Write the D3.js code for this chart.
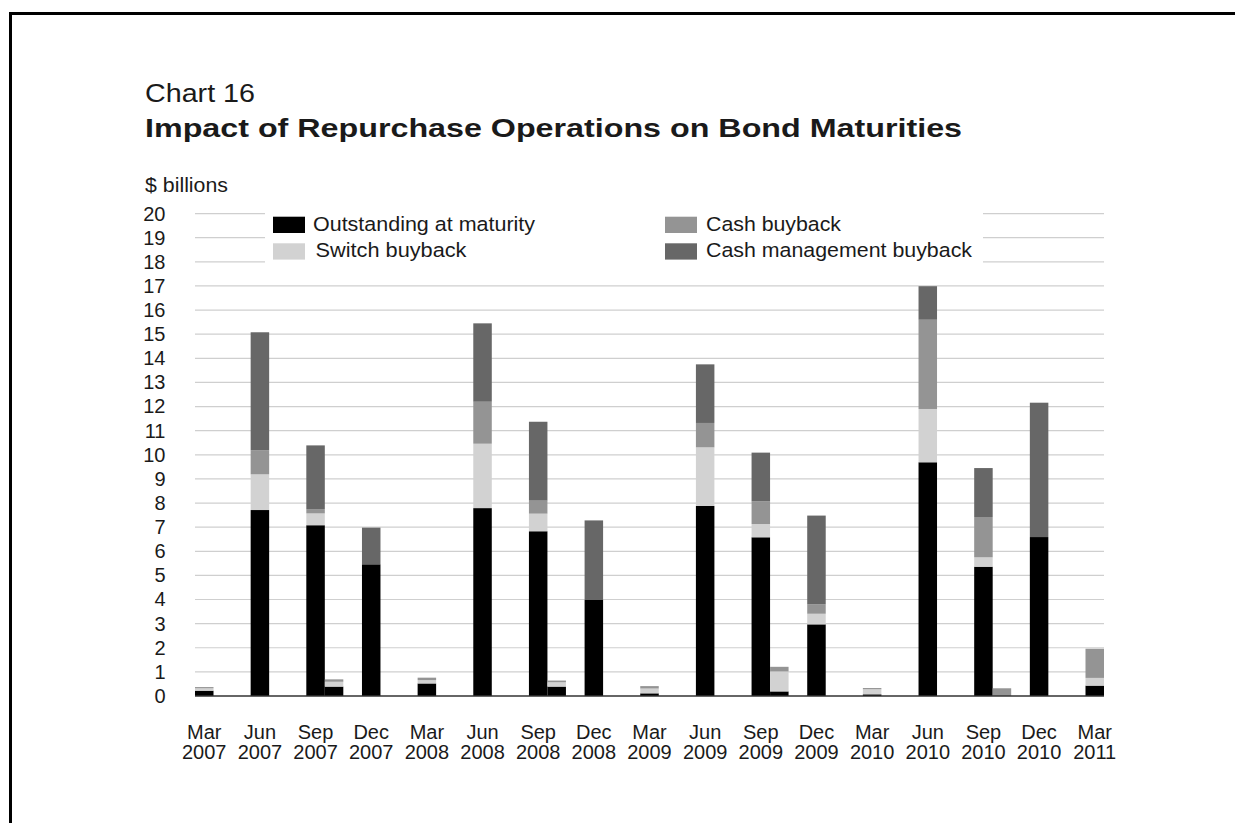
<!DOCTYPE html>
<html>
<head>
<meta charset="utf-8">
<script src="https://cdn.jsdelivr.net/npm/d3@7"></script>
<style>
  html, body { margin: 0; padding: 0; background: #fff; }
  svg { display: block; }
  text { font-family: "Liberation Sans", Arial, Helvetica, sans-serif; fill: #1a1a1a; }
</style>
</head>
<body>
<svg id="chart" width="1235" height="823"></svg>
<script>
// ---- Data ----
const categories = ["Mar 2007","Jun 2007","Sep 2007","Dec 2007","Mar 2008","Jun 2008","Sep 2008","Dec 2008",
  "Mar 2009","Jun 2009","Sep 2009","Dec 2009","Mar 2010","Jun 2010","Sep 2010","Dec 2010","Mar 2011"];

const seriesNames = ["Outstanding at maturity","Switch buyback","Cash buyback","Cash management buyback"];
const seriesColors = ["#000000","#d2d2d2","#949494","#676767"];

// Main bar per maturity date
const outstanding   = [0.22, 7.71, 7.08, 5.46, 0.52, 7.79, 6.83, 3.98, 0.11, 7.88, 6.58, 2.97, 0.07, 9.69, 5.36, 6.59, 0.43];
const switchBuyback = [0.10, 1.48, 0.49, 0.00, 0.14, 2.67, 0.73, 0.00, 0.20, 2.43, 0.55, 0.44, 0.21, 2.21, 0.39, 0.00, 0.32];
const cashBuyback   = [0.05, 1.00, 0.18, 0.00, 0.10, 1.74, 0.54, 0.00, 0.10, 1.01, 0.94, 0.39, 0.05, 3.70, 1.67, 0.00, 1.21];
const cashMgmt      = [0.00, 4.89, 2.64, 1.52, 0.00, 3.25, 3.27, 3.30, 0.00, 2.43, 2.02, 3.68, 0.00, 1.39, 2.03, 5.57, 0.00];

// Second (adjacent) bar for September maturities
const secondCategories   = ["Sep 2007","Sep 2008","Sep 2009","Sep 2010"];
const secondOutstanding  = [0.39, 0.39, 0.19, 0.00];
const secondSwitch       = [0.20, 0.18, 0.83, 0.00];
const secondCash         = [0.10, 0.07, 0.19, 0.32];
const secondCashMgmt     = [0.00, 0.00, 0.00, 0.00];

const yTicks = d3.range(0, 21, 1);

// ---- Layout ----
const svg = d3.select("#chart");
const plotLeft = 195, plotRight = 1104, plotTop = 213.6, plotBottom = 696;
const barW = 18.5;

const x = d3.scalePoint().domain(categories).range([plotLeft + barW / 2, plotRight - barW / 2]);
const y = d3.scaleLinear().domain([0, 20]).range([plotBottom, plotTop]);

// frame (extends off-page at right and bottom)
svg.append("rect").attr("x", 10.5).attr("y", 13.5).attr("width", 1300).attr("height", 900)
  .attr("fill", "none").attr("stroke", "#000").attr("stroke-width", 3);

// titles
svg.append("text").attr("x", 145).attr("y", 101.5).attr("font-size", 25.5)
  .attr("textLength", 110).attr("lengthAdjust", "spacingAndGlyphs").text("Chart 16");
svg.append("text").attr("x", 145).attr("y", 136.5).attr("font-size", 25.5).attr("font-weight", "bold")
  .attr("textLength", 817).attr("lengthAdjust", "spacingAndGlyphs")
  .text("Impact of Repurchase Operations on Bond Maturities");
svg.append("text").attr("x", 145).attr("y", 191.5).attr("font-size", 20)
  .attr("textLength", 83).attr("lengthAdjust", "spacingAndGlyphs").text("$ billions");

// gridlines
svg.append("g").selectAll("line").data(yTicks.filter(d => d > 0)).join("line")
  .attr("x1", plotLeft).attr("x2", plotRight)
  .attr("y1", d => y(d)).attr("y2", d => y(d))
  .attr("stroke", "#cfcfcf").attr("stroke-width", 1.2);

// y axis labels
const yAxis = d3.axisLeft(y).tickValues(yTicks).tickSize(0).tickPadding(0).tickFormat(d3.format("d"));
const yg = svg.append("g").attr("transform", `translate(165.5,0)`).call(yAxis);
yg.select(".domain").remove();
yg.selectAll("text").attr("font-size", 20).attr("fill", "#1a1a1a")
  .style("font-family", '"Liberation Sans", Arial, sans-serif');

// stacked bars
function drawStack(cats, arrays, offset) {
  const rows = cats.map((c, i) => {
    const r = { cat: c };
    seriesNames.forEach((s, k) => r[s] = arrays[k][i]);
    return r;
  });
  const stacked = d3.stack().keys(seriesNames)(rows);
  svg.append("g").selectAll("g").data(stacked).join("g")
    .attr("fill", (d, i) => seriesColors[i])
    .selectAll("rect").data(d => d).join("rect")
    .attr("x", d => x(d.data.cat) - barW / 2 + offset)
    .attr("width", barW)
    .attr("y", d => y(d[1]))
    .attr("height", d => Math.max(0, y(d[0]) - y(d[1])));
}
drawStack(categories, [outstanding, switchBuyback, cashBuyback, cashMgmt], 0);
drawStack(secondCategories, [secondOutstanding, secondSwitch, secondCash, secondCashMgmt], barW);

// baseline
svg.append("line").attr("x1", plotLeft).attr("x2", plotRight).attr("y1", y(0)).attr("y2", y(0))
  .attr("stroke", "#333").attr("stroke-width", 1.5);

// x labels
const xg = svg.append("g");
categories.forEach(c => {
  const [m, yr] = c.split(" ");
  const t = xg.append("text").attr("text-anchor", "middle").attr("font-size", 20)
    .attr("x", x(c)).attr("y", 738.5);
  t.append("tspan").attr("x", x(c)).text(m);
  t.append("tspan").attr("x", x(c)).attr("dy", 20).text(yr);
});

// legend
const legend = svg.append("g");
legend.append("rect").attr("x", 265).attr("y", 205).attr("width", 718).attr("height", 64).attr("fill", "#fff");
const legendPos = [
  { bx: 273, by: 216.7, tx: 313, ty: 231, w: 222 },
  { bx: 273, by: 243.3, tx: 315.5, ty: 257, w: 151 },
  { bx: 665, by: 216.7, tx: 706, ty: 230.5, w: 135 },
  { bx: 665, by: 243.3, tx: 706, ty: 257, w: 266 }
];
seriesNames.forEach((s, i) => {
  const p = legendPos[i];
  legend.append("rect").attr("x", p.bx).attr("y", p.by).attr("width", 32).attr("height", 16.3)
    .attr("fill", seriesColors[i]);
  legend.append("text").attr("x", p.tx).attr("y", p.ty).attr("font-size", 20.5)
    .attr("textLength", p.w).attr("lengthAdjust", "spacingAndGlyphs").text(s);
});
</script>
</body>
</html>
